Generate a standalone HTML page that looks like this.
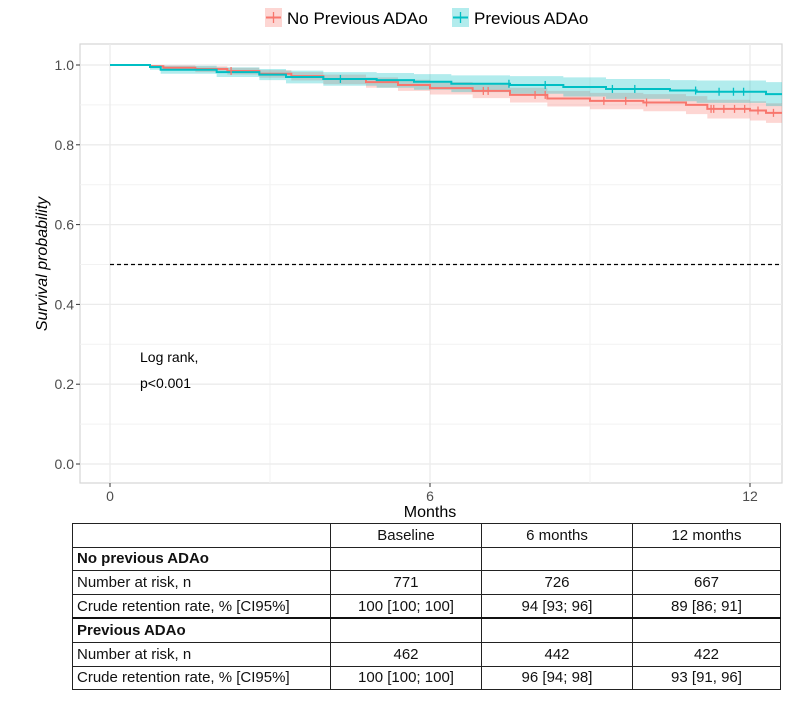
<!DOCTYPE html>
<html><head><meta charset="utf-8">
<style>
body{margin:0;background:#fff;width:807px;height:708px;overflow:hidden;font-family:"Liberation Sans",sans-serif;}
#chart{position:absolute;left:0;top:0;}
table{position:absolute;left:72px;top:523px;border-collapse:collapse;font-family:"Liberation Sans",sans-serif;font-size:15px;color:#111;}
td{border:1px solid #222;height:22.6px;padding:0 4px;text-align:center;}
td.l{text-align:left;}
tr.grp td{font-weight:bold;}
tr.thick td{border-top:2px solid #111;}
</style></head><body>
<svg id="chart" width="807" height="520"></svg>
<table>
<colgroup><col style="width:258px"><col style="width:151px"><col style="width:151px"><col style="width:148px"></colgroup>
<tr><td></td><td>Baseline</td><td>6 months</td><td>12 months</td></tr>
<tr class="grp"><td class="l">No previous ADAo</td><td></td><td></td><td></td></tr>
<tr><td class="l">Number at risk, n</td><td>771</td><td>726</td><td>667</td></tr>
<tr><td class="l">Crude retention rate, % [CI95%]</td><td>100 [100; 100]</td><td>94 [93; 96]</td><td>89 [86; 91]</td></tr>
<tr class="grp thick"><td class="l">Previous ADAo</td><td></td><td></td><td></td></tr>
<tr><td class="l">Number at risk, n</td><td>462</td><td>442</td><td>422</td></tr>
<tr><td class="l">Crude retention rate, % [CI95%]</td><td>100 [100; 100]</td><td>96 [94; 98]</td><td>93 [91, 96]</td></tr>
</table>
<script>
const xTicks=[0,6,12];
const yTicks=[0,0.2,0.4,0.6,0.8,1.0];
const redTimes=[0,0.75,1.0,1.6,2.2,2.8,3.4,4.0,4.8,5.4,6.0,6.8,7.5,8.2,9.0,10.0,10.8,11.2,12.0,12.3,12.6];
const redSurv =[1,0.997,0.993,0.99,0.985,0.978,0.972,0.965,0.957,0.95,0.942,0.935,0.925,0.916,0.91,0.906,0.9,0.89,0.886,0.88,0.88];
const redLow  =[1,0.993,0.987,0.982,0.976,0.968,0.961,0.952,0.943,0.935,0.926,0.917,0.906,0.896,0.889,0.884,0.877,0.866,0.861,0.855,0.855];
const redHigh =[1,1,0.999,0.997,0.993,0.987,0.982,0.976,0.969,0.963,0.957,0.951,0.943,0.935,0.93,0.927,0.922,0.913,0.909,0.904,0.904];
const tealTimes=[0,0.75,0.95,2.0,2.8,3.3,4.0,5.0,5.7,6.4,7.5,8.5,9.3,10.5,11.0,12.3,12.6];
const tealSurv =[1,0.995,0.988,0.982,0.976,0.97,0.965,0.962,0.958,0.953,0.95,0.945,0.94,0.936,0.933,0.927,0.927];
const tealLow  =[1,0.988,0.978,0.97,0.962,0.954,0.948,0.943,0.938,0.932,0.928,0.921,0.915,0.909,0.905,0.897,0.897];
const tealHigh =[1,1,0.998,0.994,0.99,0.986,0.982,0.98,0.977,0.974,0.972,0.969,0.965,0.962,0.961,0.957,0.957];
const redCensor=[2.27,7.0,7.09,7.97,8.16,9.26,9.67,10.06,11.27,11.32,11.51,11.71,11.9,12.15,12.44];
const tealCensor=[4.32,7.48,8.16,9.42,9.84,10.98,11.42,11.69,11.88];
const xMax=12.6;
const L=80,R=782,T=44,B=483;
const X=t=>110+t*(750-110)/12;
const Y=v=>464-v*(464-65);
const svg=document.getElementById('chart');
const NS='http://www.w3.org/2000/svg';
function mk(tag,attrs,parent){const e=document.createElementNS(NS,tag);for(const k in attrs)e.setAttribute(k,attrs[k]);(parent||svg).appendChild(e);return e;}
let p=mk('rect',{x:L,y:T,width:R-L,height:B-T,fill:'#fff',stroke:'#d6d6d6','stroke-width':1.2});

for(let i=0;i<5;i++){let v=0.1+0.2*i;let g=mk('line',{x1:L,x2:R,y1:Y(v),y2:Y(v),stroke:'#f2f2f2','stroke-width':1});}
[3,9].forEach(t=>{let g=mk('line',{x1:X(t),x2:X(t),y1:T,y2:B,stroke:'#f2f2f2','stroke-width':1});});
yTicks.forEach(v=>{let g=mk('line',{x1:L,x2:R,y1:Y(v),y2:Y(v),stroke:'#ebebeb','stroke-width':1.3});
let tk=mk('line',{x1:L-4,x2:L,y1:Y(v),y2:Y(v),stroke:'#333'});
let tx=mk('text',{x:L-6,y:Y(v)+5,'text-anchor':'end','font-size':14,fill:'#4d4d4d'});tx.textContent=v.toFixed(1);});
xTicks.forEach(t=>{let g=mk('line',{x1:X(t),x2:X(t),y1:T,y2:B,stroke:'#ebebeb','stroke-width':1.3});
let tk=mk('line',{x1:X(t),x2:X(t),y1:B,y2:B+4,stroke:'#333'});
let tx=mk('text',{x:X(t),y:B+18,'text-anchor':'middle','font-size':14,fill:'#4d4d4d'});tx.textContent=t;});
function stepPath(ts,vs){let d='M'+X(ts[0])+','+Y(vs[0]);for(let i=1;i<ts.length;i++){d+=' H'+X(ts[i])+' V'+Y(vs[i]);}d+=' H'+X(xMax);return d;}
function bandPath(ts,lo,hi){let d='M'+X(ts[0])+','+Y(hi[0]);for(let i=1;i<ts.length;i++){d+=' H'+X(ts[i])+' V'+Y(hi[i]);}d+=' H'+X(xMax)+' V'+Y(lo[lo.length-1]);for(let i=ts.length-1;i>=1;i--){d+=' H'+X(ts[i])+' V'+Y(lo[i-1]);}d+=' H'+X(ts[0])+' Z';return d;}
function valAt(ts,vs,t){let v=vs[0];for(let i=0;i<ts.length;i++){if(ts[i]<=t)v=vs[i];}return v;}
let b1=mk('path',{d:bandPath(redTimes,redLow,redHigh),fill:'#f8766d','fill-opacity':0.3});
let b2=mk('path',{d:bandPath(tealTimes,tealLow,tealHigh),fill:'#00bfc4','fill-opacity':0.3});
let dl=mk('line',{x1:X(0),x2:R,y1:Y(0.5),y2:Y(0.5),stroke:'#000','stroke-dasharray':'4,3','stroke-width':1.2});
let l1=mk('path',{d:stepPath(redTimes,redSurv),fill:'none',stroke:'#f8766d','stroke-width':2});
let l2=mk('path',{d:stepPath(tealTimes,tealSurv),fill:'none',stroke:'#00bfc4','stroke-width':2});
redCensor.forEach(t=>{let y=Y(valAt(redTimes,redSurv,t));let c=mk('line',{x1:X(t),x2:X(t),y1:y-4,y2:y+4,stroke:'#f8766d','stroke-width':1.3});});
tealCensor.forEach(t=>{let y=Y(valAt(tealTimes,tealSurv,t));let c=mk('line',{x1:X(t),x2:X(t),y1:y-4,y2:y+4,stroke:'#00bfc4','stroke-width':1.3});});
let yt=mk('text',{transform:'translate(47,264) rotate(-90)','text-anchor':'middle','font-size':16,'font-style':'italic',fill:'#000'});yt.textContent='Survival probability';
let xt=mk('text',{x:430,y:517,'text-anchor':'middle','font-size':16,fill:'#000'});xt.textContent='Months';
let a1=mk('text',{x:140,y:362,'font-size':14,fill:'#000'});a1.textContent='Log rank,';
let a2=mk('text',{x:140,y:388,'font-size':14,fill:'#000'});a2.textContent='p<0.001';
const leg=[{x:265,c:'#f8766d',t:'No Previous ADAo',n:'legend-entry-no-previous'},{x:452,c:'#00bfc4',t:'Previous ADAo',n:'legend-entry-previous'}];
leg.forEach(o=>{let g=mk('g',{});
mk('rect',{x:o.x,y:8,width:17,height:19,fill:o.c,'fill-opacity':0.3},g);
mk('line',{x1:o.x+1,x2:o.x+16,y1:17.5,y2:17.5,stroke:o.c,'stroke-width':2},g);
mk('line',{x1:o.x+8.5,x2:o.x+8.5,y1:12,y2:23,stroke:o.c,'stroke-width':1.3},g);
let t=mk('text',{x:o.x+22,y:24,'font-size':17,fill:'#000'},g);t.textContent=o.t;});
</script>
</body></html>
